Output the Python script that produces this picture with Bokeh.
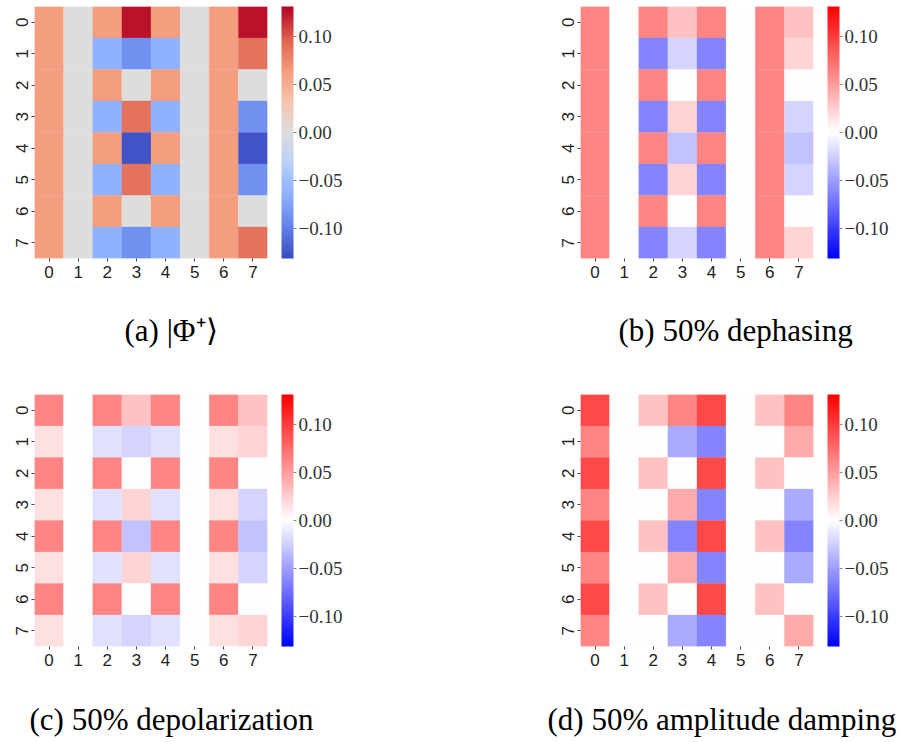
from bokeh.plotting import figure
from bokeh.models import (ColumnDataSource, LinearColorMapper, ColorBar, FixedTicker, Title)
from bokeh.layouts import column, row
from bokeh.embed import file_html
from bokeh.resources import INLINE

# ---------------- data ----------------
ticks = [0, 1, 2, 3, 4, 5, 6, 7]
tick_labels = ["0", "1", "2", "3", "4", "5", "6", "7"]
cbar_ticks = [-0.10, -0.05, 0.0, 0.05, 0.10]
cbar_labels = ["\u22120.10", "\u22120.05", "0.00", "0.05", "0.10"]
vlim = 0.131

captions = ["(a) |\u03a6\u207a\u27e9", "(b) 50% dephasing",
            "(c) 50% depolarization", "(d) 50% amplitude damping"]

rho_bell = [
    [0.0625, 0, 0.0625, 0.125, 0.0625, 0, 0.0625, 0.125],
    [0.0625, 0, -0.0625, -0.088, -0.0625, 0, 0.0625, 0.088],
    [0.0625, 0, 0.0625, 0, 0.0625, 0, 0.0625, 0],
    [0.0625, 0, -0.0625, 0.088, -0.0625, 0, 0.0625, -0.088],
    [0.0625, 0, 0.0625, -0.125, 0.0625, 0, 0.0625, -0.125],
    [0.0625, 0, -0.0625, 0.088, -0.0625, 0, 0.0625, -0.088],
    [0.0625, 0, 0.0625, 0, 0.0625, 0, 0.0625, 0],
    [0.0625, 0, -0.0625, -0.088, -0.0625, 0, 0.0625, 0.088],
]
rho_dephasing = [
    [0.0625, 0, 0.0625, 0.031, 0.0625, 0, 0.0625, 0.031],
    [0.0625, 0, -0.0625, -0.022, -0.0625, 0, 0.0625, 0.022],
    [0.0625, 0, 0.0625, 0, 0.0625, 0, 0.0625, 0],
    [0.0625, 0, -0.0625, 0.022, -0.0625, 0, 0.0625, -0.022],
    [0.0625, 0, 0.0625, -0.031, 0.0625, 0, 0.0625, -0.031],
    [0.0625, 0, -0.0625, 0.022, -0.0625, 0, 0.0625, -0.022],
    [0.0625, 0, 0.0625, 0, 0.0625, 0, 0.0625, 0],
    [0.0625, 0, -0.0625, -0.022, -0.0625, 0, 0.0625, 0.022],
]
rho_depolarization = [
    [0.0625, 0, 0.0625, 0.031, 0.0625, 0, 0.0625, 0.031],
    [0.016, 0, -0.016, -0.022, -0.016, 0, 0.016, 0.022],
    [0.0625, 0, 0.0625, 0, 0.0625, 0, 0.0625, 0],
    [0.016, 0, -0.016, 0.022, -0.016, 0, 0.016, -0.022],
    [0.0625, 0, 0.0625, -0.031, 0.0625, 0, 0.0625, -0.031],
    [0.016, 0, -0.016, 0.022, -0.016, 0, 0.016, -0.022],
    [0.0625, 0, 0.0625, 0, 0.0625, 0, 0.0625, 0],
    [0.016, 0, -0.016, -0.022, -0.016, 0, 0.016, 0.022],
]
rho_amplitude = [
    [0.094, 0, 0.031, 0.0625, 0.094, 0, 0.031, 0.0625],
    [0.0625, 0, 0, -0.044, -0.0625, 0, 0, 0.044],
    [0.094, 0, 0.031, 0, 0.094, 0, 0.031, 0],
    [0.0625, 0, 0, 0.044, -0.0625, 0, 0, -0.044],
    [0.094, 0, 0.031, -0.0625, 0.094, 0, 0.031, -0.0625],
    [0.0625, 0, 0, 0.044, -0.0625, 0, 0, -0.044],
    [0.094, 0, 0.031, 0, 0.094, 0, 0.031, 0],
    [0.0625, 0, 0, -0.044, -0.0625, 0, 0, 0.044],
]

# ---------------- palettes ----------------
coolwarm_anchors = [(59, 76, 192), (98, 130, 234), (141, 176, 254), (184, 208, 249),
                    (221, 221, 221), (245, 196, 173), (244, 154, 123), (222, 96, 77),
                    (180, 4, 38)]
bwr_anchors = [(0, 0, 255), (255, 255, 255), (255, 0, 0)]


def make_palette(anchors, n=256):
    out = []
    m = len(anchors) - 1
    for i in range(n):
        t = i / (n - 1) * m
        k = min(int(t), m - 1)
        f = t - k
        a, b = anchors[k], anchors[k + 1]
        c = [round(a[j] + (b[j] - a[j]) * f) for j in range(3)]
        out.append("#%02x%02x%02x" % tuple(c))
    return out


coolwarm = make_palette(coolwarm_anchors)
bwr = make_palette(bwr_anchors)


def panel(mat, palette, caption, left, right, top, bottom, cap_offset, gap):
    xs, ys, vs = [], [], []
    for r in range(8):
        for c in range(8):
            xs.append(ticks[c])
            ys.append(ticks[r])
            vs.append(mat[r][c])
    src = ColumnDataSource(dict(x=xs, y=ys, v=vs))
    mapper = LinearColorMapper(palette=palette, low=-vlim, high=vlim)
    p = figure(width=450, height=371, x_range=(-0.5, 7.5), y_range=(7.5, -0.5),
               output_backend="svg", toolbar_location=None,
               min_border_left=left, min_border_right=right,
               min_border_top=top, min_border_bottom=bottom)
    p.rect(x="x", y="y", width=1, height=1, source=src,
           fill_color={"field": "v", "transform": mapper},
           line_color={"field": "v", "transform": mapper}, line_width=0.3)
    p.grid.visible = False
    p.outline_line_color = None
    for ax in (p.xaxis[0], p.yaxis[0]):
        ax.ticker = FixedTicker(ticks=ticks)
        ax.major_label_overrides = {t: l for t, l in zip(ticks, tick_labels)}
        ax.axis_line_color = None
        ax.major_tick_in = 0
        ax.major_tick_out = 3
        ax.minor_tick_line_color = None
        ax.major_tick_line_color = "#444444"
        ax.major_label_text_font = "Liberation Sans"
        ax.major_label_text_font_size = "17px"
        ax.major_label_text_color = "#222222"
        ax.major_label_standoff = 4
    p.yaxis[0].major_label_orientation = "vertical"

    cb = ColorBar(color_mapper=mapper, width=12, height=252, location=(14, 0),
                  padding=0, margin=0,
                  ticker=FixedTicker(ticks=cbar_ticks),
                  major_label_overrides={t: l for t, l in zip(cbar_ticks, cbar_labels)},
                  major_label_text_font="Liberation Serif",
                  major_label_text_font_size="19px",
                  major_label_text_color="#333333",
                  major_tick_in=0, major_tick_out=3,
                  major_tick_line_color="#888888",
                  minor_tick_line_color=None,
                  bar_line_color=None, border_line_color=None,
                  background_fill_color=None, label_standoff=2)
    p.add_layout(cb, "right")

    spacer = Title(text=" ", text_font_size="1px", standoff=gap)
    p.add_layout(spacer, "below")
    t = Title(text=caption, align="left", offset=cap_offset, standoff=0,
              text_font="Liberation Serif", text_font_size="31px",
              text_font_style="normal", text_color="#000000")
    p.add_layout(t, "below")
    return p


pa = panel(rho_bell, coolwarm, captions[0], 34, 183, 6, 113, 90, 27)
pb = panel(rho_dephasing, bwr, captions[1], 130, 87, 6, 113, 38, 27)
pc = panel(rho_depolarization, bwr, captions[2], 34, 183, 23, 96, -5, 28)
pd = panel(rho_amplitude, bwr, captions[3], 130, 87, 23, 96, -33, 28)

layout = column(row(pa, pb), row(pc, pd))

with open("out.html", "w") as f:
    f.write(file_html(layout, INLINE))
